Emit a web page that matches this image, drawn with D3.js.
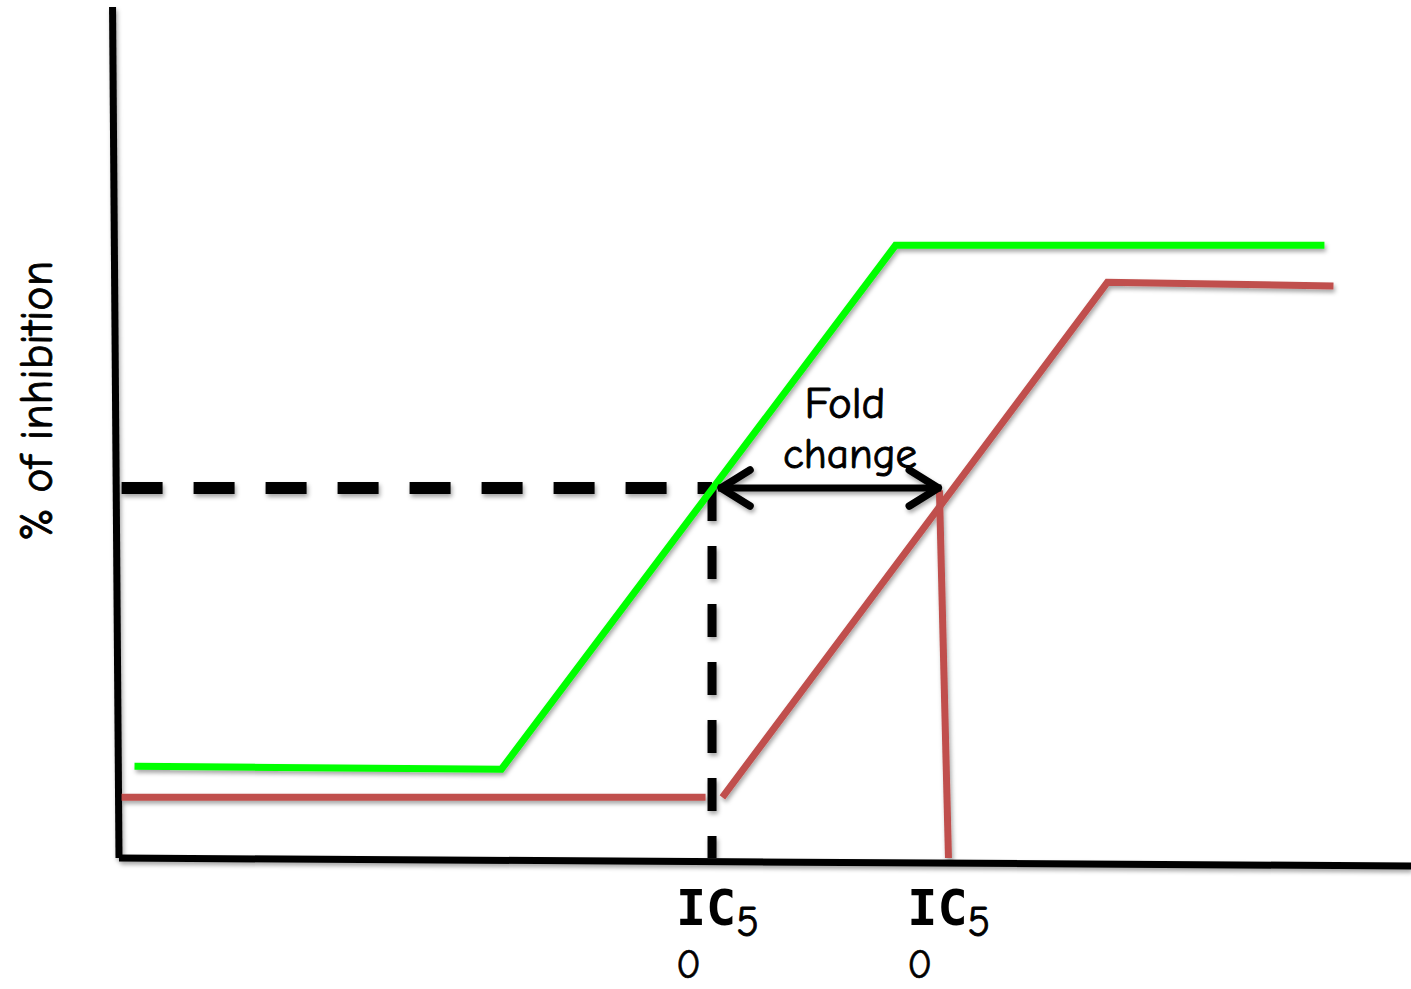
<!DOCTYPE html>
<html>
<head>
<meta charset="utf-8">
<script src="https://cdn.jsdelivr.net/npm/d3@7/dist/d3.min.js"></script>
<style>
  html, body { margin: 0; padding: 0; background: #fff; }
  svg { display: block; }
</style>
</head>
<body>
<svg id="chart" width="1411" height="989"></svg>
<script>
// ---- Data (schematic units: x = log concentration 0..10, y = % of inhibition) ----
const greenX = [0.12, 2.96, 6.01, 9.33];
const greenY = [12.4, 12.0, 82.8, 82.8];

const redLowX = [0.02, 4.54];
const redLowY = [8.2, 8.2];

const redRiseX = [4.67, 7.65, 9.40];
const redRiseY = [8.2, 77.8, 77.3];

const redDropX = [6.35, 6.42];
const redDropY = [49.7, 0];

const ic50Level = 50;
const ic50X = [4.59, 6.38];
const ic50Labels = ["IC", "IC"];
const ic50Sub = ["5", "5"];
const ic50Second = ["0", "0"];

const yAxisLabel = "% of inhibition";
const annotationLines = ["Fold", "change"];

const yAxisX = [-0.05, 0];
const yAxisY = [115, 0];
const xAxisX = [0, 10];
const xAxisY = [0, -1.08];

// ---- Scales ----
const x = d3.scaleLinear().domain([0, 10]).range([119, 1411]);
const y = d3.scaleLinear().domain([0, 100]).range([858, 118]);

const svg = d3.select("#chart");
const defs = svg.append("defs");
const f = defs.append("filter").attr("id", "shadow")
  .attr("x", "-10%").attr("y", "-10%").attr("width", "120%").attr("height", "130%");
f.append("feDropShadow").attr("dx", 1.5).attr("dy", 3).attr("stdDeviation", 2)
  .attr("flood-color", "#000").attr("flood-opacity", 0.35);

const line = d3.line().x(d => x(d[0])).y(d => y(d[1]));
const zip = (a, b) => a.map((v, i) => [v, b[i]]);

const g = svg.append("g").attr("filter", "url(#shadow)");

// Axes
g.append("path").datum(zip(yAxisX, yAxisY)).attr("d", line)
  .attr("stroke", "#000").attr("stroke-width", 7).attr("fill", "none");
g.append("path").datum(zip(xAxisX, xAxisY)).attr("d", line)
  .attr("stroke", "#000").attr("stroke-width", 7).attr("fill", "none");

// Dashed reference lines
g.append("path").datum([[0.02, ic50Level], [ic50X[0], ic50Level]]).attr("d", line)
  .attr("stroke", "#000").attr("stroke-width", 12).attr("fill", "none")
  .attr("stroke-dasharray", "41 31");
g.append("path").datum([[ic50X[0], ic50Level], [ic50X[0], 0]]).attr("d", line)
  .attr("stroke", "#000").attr("stroke-width", 9).attr("fill", "none")
  .attr("stroke-dasharray", "33 25");

// Red curve
g.append("path").datum(zip(redLowX, redLowY)).attr("d", line)
  .attr("stroke", "#c0504d").attr("stroke-width", 7).attr("fill", "none");
g.append("path").datum(zip(redRiseX, redRiseY)).attr("d", line)
  .attr("stroke", "#c0504d").attr("stroke-width", 7).attr("fill", "none")
  .attr("stroke-linejoin", "miter");
g.append("path").datum(zip(redDropX, redDropY)).attr("d", line)
  .attr("stroke", "#c0504d").attr("stroke-width", 7).attr("fill", "none");

// Green curve
g.append("path").datum(zip(greenX, greenY)).attr("d", line)
  .attr("stroke", "#00ff00").attr("stroke-width", 7).attr("fill", "none")
  .attr("stroke-linejoin", "miter");

// Double arrow
const ax0 = x(ic50X[0]) + 6, ax1 = x(ic50X[1]) - 2, ay = y(ic50Level);
g.append("line").attr("x1", ax0).attr("x2", ax1).attr("y1", ay).attr("y2", ay)
  .attr("stroke", "#000").attr("stroke-width", 7);
g.append("path")
  .attr("d", `M${ax0 + 32},${ay - 18} L${ax0 + 3},${ay} L${ax0 + 32},${ay + 18}`)
  .attr("stroke", "#000").attr("stroke-width", 7.5).attr("fill", "none")
  .attr("stroke-linecap", "round").attr("stroke-linejoin", "round");
g.append("path")
  .attr("d", `M${ax1 - 32},${ay - 18} L${ax1 - 3},${ay} L${ax1 - 32},${ay + 18}`)
  .attr("stroke", "#000").attr("stroke-width", 7.5).attr("fill", "none")
  .attr("stroke-linecap", "round").attr("stroke-linejoin", "round");

// Texts
const font = "'Comic Sans MS', 'Comic Neue', 'Open Sans', 'DejaVu Sans', sans-serif";
svg.append("text")
  .attr("transform", `translate(52, 401) rotate(-90)`)
  .attr("text-anchor", "middle")
  .attr("font-family", font).attr("font-size", 46).attr("fill", "#000")
  .attr("stroke", "#000").attr("stroke-width", 0.8)
  .text(yAxisLabel);

svg.append("text").attr("x", 845).attr("y", 418).attr("text-anchor", "middle")
  .attr("font-family", font).attr("font-size", 45)
  .attr("stroke", "#000").attr("stroke-width", 0.9)
  .text(annotationLines[0]);
svg.append("text").attr("x", 850).attr("y", 468).attr("text-anchor", "middle")
  .attr("font-family", font).attr("font-size", 43)
  .attr("stroke", "#000").attr("stroke-width", 0.9)
  .text(annotationLines[1]);

const labs = svg.append("g");
ic50X.forEach((v, i) => {
  const t = labs.append("text").attr("x", x(v) - 36).attr("y", 925)
    .attr("font-family", "'DejaVu Sans Mono', monospace").attr("font-size", 50).attr("font-weight", "bold")
    .text(ic50Labels[i]);
  t.append("tspan").attr("dy", 11).attr("font-size", 42).attr("font-weight", "normal")
    .attr("font-family", font).attr("stroke", "#000").attr("stroke-width", 0.8).text(ic50Sub[i]);
  labs.append("text").attr("x", x(v) - 36).attr("y", 978)
    .attr("font-family", font).attr("font-size", 41)
    .attr("stroke", "#000").attr("stroke-width", 0.6)
    .text(ic50Second[i]);
});
</script>
</body>
</html>
